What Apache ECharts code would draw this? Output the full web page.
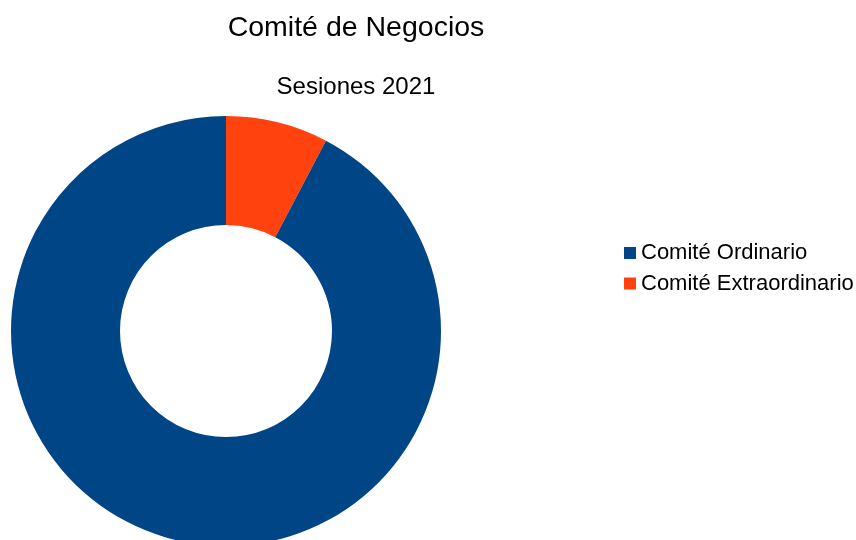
<!DOCTYPE html>
<html>
<head>
<meta charset="utf-8">
<script src="https://cdn.jsdelivr.net/npm/echarts@6/dist/echarts.min.js"></script>
<style>
html,body{margin:0;padding:0;background:#fff;}
#chart{width:856px;height:540px;}
</style>
</head>
<body>
<div id="chart"></div>
<script>
var titleText = 'Comité de Negocios';
var subtitleText = 'Sesiones 2021';
var categories = ['Comité Extraordinario', 'Comité Ordinario'];
var values = [1, 12];
var colors = ['#ff420e', '#004586'];
var legendOrder = ['Comité Ordinario', 'Comité Extraordinario'];

var chart = echarts.init(document.getElementById('chart'), null, {renderer: 'canvas'});
var font = '"Liberation Sans", Arial, sans-serif';
chart.setOption({
  animation: false,
  backgroundColor: '#ffffff',
  title: [
    {text: titleText, left: 351, top: 9, textAlign: 'center',
     textStyle: {fontFamily: font, fontSize: 28.5, fontWeight: 'normal', color: '#000'}},
    {text: subtitleText, left: 351, top: 70, textAlign: 'center',
     textStyle: {fontFamily: font, fontSize: 24, fontWeight: 'normal', color: '#000'}}
  ],
  legend: {
    orient: 'vertical',
    left: 619, top: 237,
    icon: 'rect', itemWidth: 12, itemHeight: 12, itemGap: 8.5,
    data: legendOrder,
    textStyle: {fontFamily: font, fontSize: 22, color: '#000', padding: [0,0,0,0]}
  },
  series: [{
    type: 'pie',
    center: [226, 331],
    radius: [106, 215],
    startAngle: 90,
    clockwise: true,
    label: {show: false},
    labelLine: {show: false},
    emphasis: {disabled: true},
    itemStyle: {borderWidth: 0},
    data: categories.map(function(c, i){ return {name: c, value: values[i], itemStyle: {color: colors[i]}}; })
  }]
});
</script>
</body>
</html>
